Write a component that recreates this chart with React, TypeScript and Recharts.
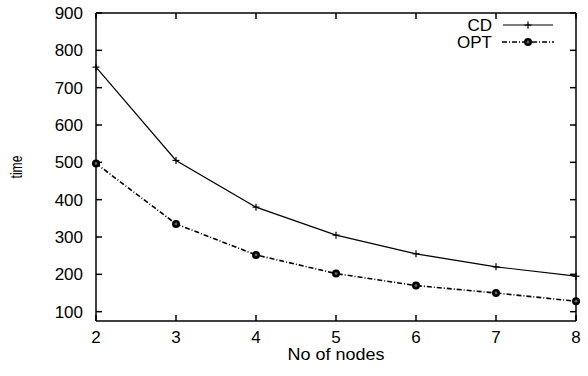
import { LineChart, Line, XAxis, YAxis, Legend } from 'recharts';

const nodes = [2, 3, 4, 5, 6, 7, 8];
const cdTime = [755, 505, 380, 305, 255, 220, 195];
const optTime = [497, 335, 252, 202, 170, 150, 128];
const yTicks = [100, 200, 300, 400, 500, 600, 700, 800, 900];

const data = nodes.map((n, i) => ({ n, cd: cdTime[i], opt: optTime[i] }));

const FONT = '"Liberation Sans", Arial, Helvetica, sans-serif';
const DASH_DOT = '5 2 1 2';

function PlusDot(props: any) {
  const { cx, cy, index } = props;
  if (cx == null || cy == null) return <g key={index} />;
  return (
    <g key={index} stroke="#000" strokeWidth={1.2}>
      <line x1={cx - 3.5} y1={cy} x2={cx + 3.5} y2={cy} />
      <line x1={cx} y1={cy - 3.5} x2={cx} y2={cy + 3.5} />
    </g>
  );
}

function RingDot(props: any) {
  const { cx, cy, index } = props;
  if (cx == null || cy == null) return <g key={index} />;
  return (
    <g key={index}>
      <circle cx={cx} cy={cy} r={4} fill="#000" />
      <circle cx={cx} cy={cy} r={1.4} fill="#666" />
    </g>
  );
}

function LegendBox() {
  return (
    <svg width={140} height={40} style={{ display: 'block' }}>
      <g fontFamily={FONT} fontSize={17} fill="#000">
        <text x={62} y={16} textAnchor="end">CD</text>
        <text x={62} y={33} textAnchor="end">OPT</text>
      </g>
      <line x1={73} y1={10} x2={123} y2={10} stroke="#000" strokeWidth={1.2} />
      <PlusDot cx={98} cy={10} index={0} />
      <line x1={72} y1={27} x2={124} y2={27} stroke="#000" strokeWidth={1.6} strokeDasharray={DASH_DOT} />
      <RingDot cx={98} cy={27} index={1} />
    </svg>
  );
}

const NoLabel = (p: any) => <g key={p.index} />;

export default function App() {
  return (
    <div style={{ position: 'absolute', left: 0, top: 0, width: 588, height: 376, background: '#fff' }}>
      <LineChart width={588} height={376} data={data} margin={{ top: 12, right: 11, left: 0, bottom: 0 }}>
        <XAxis
          dataKey="n"
          type="number"
          domain={[2, 8]}
          ticks={nodes}
          height={55}
          tickSize={-6}
          tickMargin={16}
          stroke="#000"
          strokeWidth={1.5}
          tick={{ fill: '#000', fontSize: 17, fontFamily: FONT }}
          label={{
            content: ({ viewBox }: any) => (
              <text
                x={viewBox.x + viewBox.width / 2}
                y={viewBox.y + 39}
                textAnchor="middle"
                fontFamily={FONT}
                fontSize={17}
                textLength={97}
                lengthAdjust="spacingAndGlyphs"
                fill="#000"
              >
                No of nodes
              </text>
            ),
          }}
        />
        <XAxis
          xAxisId="top"
          orientation="top"
          dataKey="n"
          type="number"
          domain={[2, 8]}
          ticks={nodes}
          height={1}
          tickSize={-6}
          tick={NoLabel}
          stroke="#000"
          strokeWidth={1.5}
        />
        <YAxis
          type="number"
          domain={[75, 900]}
          ticks={yTicks}
          width={96}
          tickSize={-6}
          tickMargin={19}
          stroke="#000"
          strokeWidth={1.5}
          tick={{ fill: '#000', fontSize: 17, fontFamily: FONT }}
          label={{
            content: ({ viewBox }: any) => (
              <text
                x={0}
                y={0}
                transform={`translate(22, ${viewBox.y + viewBox.height / 2}) rotate(-90)`}
                textAnchor="middle"
                fontFamily={FONT}
                fontSize={16}
                textLength={23}
                lengthAdjust="spacingAndGlyphs"
                fill="#000"
              >
                time
              </text>
            ),
          }}
        />
        <YAxis
          yAxisId="right"
          orientation="right"
          type="number"
          domain={[75, 900]}
          ticks={yTicks}
          width={1}
          tickSize={-6}
          tick={NoLabel}
          stroke="#000"
          strokeWidth={1.5}
        />
        <Legend
          layout="horizontal"
          verticalAlign="middle"
          align="center"
          wrapperStyle={{ position: 'absolute', left: 430, top: 15, width: 140, height: 40 }}
          content={() => <LegendBox />}
        />
        {/* invisible series so the mirrored top/right axes get drawn */}
        <Line
          xAxisId="top"
          yAxisId="right"
          dataKey="cd"
          stroke="none"
          dot={false}
          activeDot={false}
          legendType="none"
          isAnimationActive={false}
        />
        <Line
          dataKey="cd"
          name="CD"
          type="linear"
          stroke="#000"
          strokeWidth={1.2}
          dot={(p: any) => <PlusDot key={p.index} {...p} />}
          activeDot={false}
          isAnimationActive={false}
        />
        <Line
          dataKey="opt"
          name="OPT"
          type="linear"
          stroke="#000"
          strokeWidth={1.6}
          strokeDasharray={DASH_DOT}
          dot={(p: any) => <RingDot key={p.index} {...p} />}
          activeDot={false}
          isAnimationActive={false}
        />
      </LineChart>
    </div>
  );
}
